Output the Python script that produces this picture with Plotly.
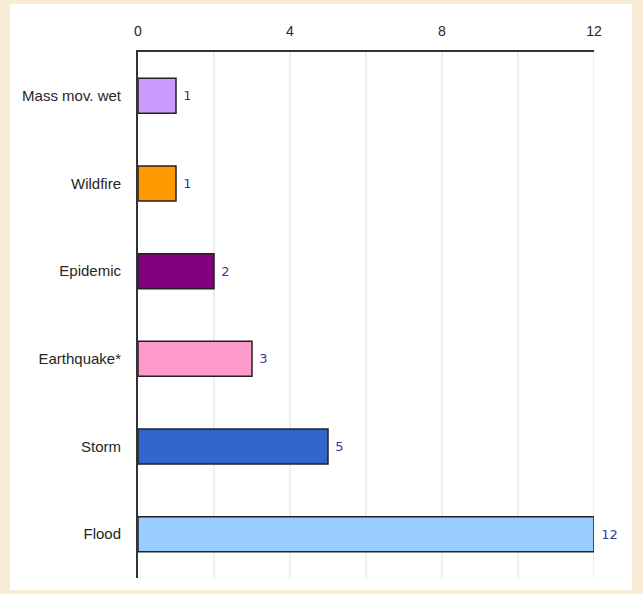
import plotly.graph_objects as go

categories = ["Mass mov. wet", "Wildfire", "Epidemic", "Earthquake*", "Storm", "Flood"]
values = [1, 1, 2, 3, 5, 12]
bar_colors = ["#CC99FF", "#FF9900", "#800080", "#FF99CC", "#3366CC", "#99CCFF"]
tick_vals = [0, 4, 8, 12]

W, H = 643, 594
L, T = 138, 52
R = W - 594
B = H - 578
pw, ph = W - L - R, H - T - B

def px_x(p):
    return (p - L) / pw

def px_y(p):
    return (H - B - p) / ph

fig = go.Figure()
fig.add_trace(go.Bar(
    y=categories, x=values, orientation="h",
    marker=dict(color=bar_colors, line=dict(color="#222222", width=1.5)),
    width=0.4,
    text=["\u00a0" + str(v) for v in values], textposition="outside",
    textfont=dict(color="#3A3A99", size=13, family="DejaVu Sans"),
    cliponaxis=False,
))

fig.update_layout(
    width=W, height=H,
    margin=dict(l=L, r=R, t=T, b=B),
    paper_bgcolor="#F7EBD5",
    plot_bgcolor="rgba(0,0,0,0)",
    showlegend=False,
    font=dict(family="Liberation Sans, Arial, sans-serif", size=15, color="#262626"),
    shapes=[dict(type="rect", xref="paper", yref="paper",
                 x0=px_x(10), x1=px_x(632), y0=px_y(590), y1=px_y(4),
                 fillcolor="white", line=dict(width=0), layer="below")],
    xaxis=dict(side="top", range=[0, 12], tickvals=tick_vals,
               ticktext=[str(t) for t in tick_vals],
               showgrid=False, zeroline=False,
               showline=True, linecolor="#333333", linewidth=2,
               ticks="", ticklabelstandoff=8, fixedrange=True,
               tickfont=dict(size=14)),
    yaxis=dict(categoryorder="array", categoryarray=categories,
               autorange="reversed", showgrid=False, zeroline=False,
               showline=True, linecolor="#333333", linewidth=2,
               ticks="", ticklabelstandoff=12, fixedrange=True),
)

# vertical gridlines every 2 units
for g in range(2, 13, 2):
    fig.add_shape(type="line", xref="x", yref="paper", x0=g, x1=g, y0=0, y1=1,
                  line=dict(color="#DDDDDD", width=1), layer="below")

fig.write_html(
    "out.html",
    config={"displayModeBar": False},
    post_script="document.body.style.margin='0';document.body.style.background='#F7EBD5';",
)
